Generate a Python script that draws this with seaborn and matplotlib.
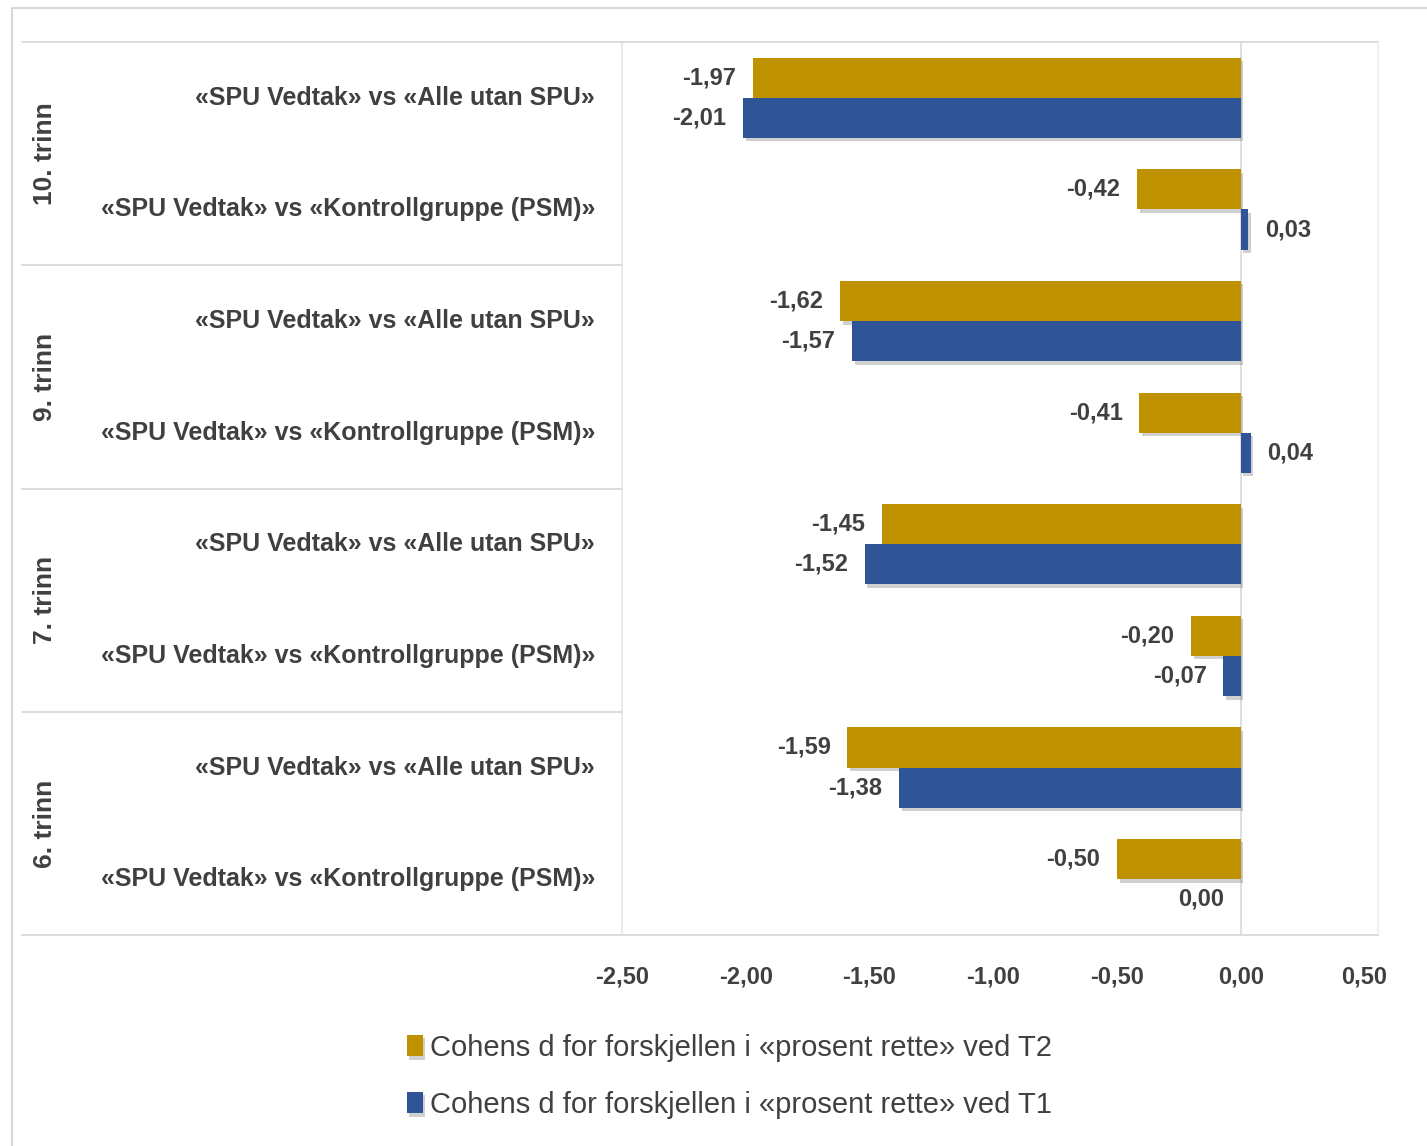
import matplotlib
matplotlib.use("Agg")
import matplotlib.pyplot as plt
import matplotlib.patheffects as pe
from matplotlib import font_manager
from matplotlib.patches import Rectangle
from matplotlib.lines import Line2D
import seaborn as sns
import pandas as pd

# ---------------- data ----------------
groups = ["10. trinn", "9. trinn", "7. trinn", "6. trinn"]
comparisons = ["«SPU Vedtak» vs «Alle utan SPU»",
               "«SPU Vedtak» vs «Kontrollgruppe (PSM)»"]
series_names = ["Cohens d for forskjellen i «prosent rette» ved T2",
                "Cohens d for forskjellen i «prosent rette» ved T1"]
# top-to-bottom order: (group, comparison)
t2_values = [-1.97, -0.42, -1.62, -0.41, -1.45, -0.20, -1.59, -0.50]
t1_values = [-2.01, 0.03, -1.57, 0.04, -1.52, -0.07, -1.38, 0.00]
x_ticks = [-2.5, -2.0, -1.5, -1.0, -0.5, 0.0, 0.5]

colors = ["#C09200", "#2F5597"]
text_col = "#404040"

names = [f.name for f in font_manager.fontManager.ttflist]
family = "Liberation Sans Narrow" if "Liberation Sans Narrow" in names else "Liberation Sans"

sns.set_theme(style="white")
plt.rcParams["font.family"] = [family, "DejaVu Sans"]

rows = []
keys = []
labels = []
for gi, g in enumerate(groups):
    for ci, c in enumerate(comparisons):
        idx = gi * 2 + ci
        key = f"{g}|{ci}"
        keys.append(key)
        labels.append(c)
        rows.append({"key": key, "series": series_names[0], "value": t2_values[idx]})
        rows.append({"key": key, "series": series_names[1], "value": t1_values[idx]})
df = pd.DataFrame(rows)

W, H = 1427, 1146
fig = plt.figure(figsize=(W / 100, H / 100), dpi=100)
fig.patch.set_facecolor("white")

ax_l, ax_r, ax_t, ax_b = 622, 1378, 42, 935
ax = fig.add_axes([ax_l / W, 1 - ax_b / H, (ax_r - ax_l) / W, (ax_b - ax_t) / H])

sns.barplot(data=df, y="key", x="value", hue="series", order=keys,
            hue_order=series_names, palette=colors, orient="h",
            width=0.72, ax=ax, legend=True, saturation=1)

shadow = [pe.SimplePatchShadow(offset=(2, -2.5), shadow_rgbFace="#7a7a7a", alpha=0.35), pe.Normal()]
for p in ax.patches:
    p.set_path_effects(shadow)
    p.set_edgecolor("none")

ax.set_xlim(-2.5, 0.555)
ax.set_ylim(7.5, -0.5)
ax.set_xticks(x_ticks)
ax.set_xticklabels([f"{v:.2f}".replace(".", ",") for v in x_ticks],
                   fontsize=17, fontweight="bold", color=text_col)
ax.tick_params(axis="x", length=0, pad=22)
ax.set_yticks([])
ax.set_xlabel("")
ax.set_ylabel("")
for s in ["top", "bottom", "right"]:
    ax.spines[s].set_visible(False)
ax.spines["left"].set_color("#e6e6e6")
ax.spines["left"].set_linewidth(1.2)

# zero line and right border
ax.axvline(0, color="#d9d9d9", lw=1.2, zorder=0)
ax.axvline(0.555, color="#ececec", lw=1.2, zorder=0, clip_on=False)

# value labels
for cont in ax.containers:
    for bar in cont:
        v = bar.get_width()
        y = bar.get_y() + bar.get_height() / 2
        txt = f"{v:.2f}".replace(".", ",").replace("-0,00", "0,00")
        if v > 0:
            ax.annotate(txt, (v, y), xytext=(12, 0), textcoords="offset points",
                        ha="left", va="center", fontsize=17, fontweight="bold", color=text_col)
        else:
            ax.annotate(txt, (v, y), xytext=(-12, 0), textcoords="offset points",
                        ha="right", va="center", fontsize=17, fontweight="bold", color=text_col)

# category labels
lab_x = 595
for i, lab in enumerate(labels):
    yy = (ax_t + (i + 0.5) * (ax_b - ax_t) / 8)
    fig.text(lab_x / W, 1 - yy / H, lab, ha="right", va="center",
             fontsize=18, fontweight="bold", color=text_col)

# group labels
for gi, g in enumerate(groups):
    yy = ax_t + (gi * 2 + 1) * (ax_b - ax_t) / 8
    fig.text(45 / W, 1 - yy / H, g, ha="center", va="center", rotation=90,
             fontsize=19, fontweight="bold", color=text_col)

# horizontal separators
line_col = "#d9d9d9"
for k in range(5):
    yy = ax_t + k * 2 * (ax_b - ax_t) / 8
    x_end = ax_r if k in (0, 4) else ax_l
    fig.add_artist(Line2D([22 / W, x_end / W], [1 - yy / H, 1 - yy / H],
                          color=line_col, lw=1.3))

# outer border
fig.add_artist(Rectangle((12 / W, -0.01), 1.0, 1 - 8 / H + 0.01,
                         transform=fig.transFigure, fill=False,
                         edgecolor="#d0d0d0", lw=1.2))

# legend
handles, lbls = ax.get_legend_handles_labels()
ax.get_legend().remove()
leg = fig.legend(handles, lbls, loc="upper left",
                 bbox_to_anchor=(395 / W, 1 - 1022 / H), frameon=False,
                 fontsize=21, handlelength=0.55, handleheight=0.75,
                 handletextpad=0.25, labelspacing=1.0, borderaxespad=0)
for t in leg.get_texts():
    t.set_color(text_col)

fig.savefig("out.png", dpi=100, facecolor="white")
